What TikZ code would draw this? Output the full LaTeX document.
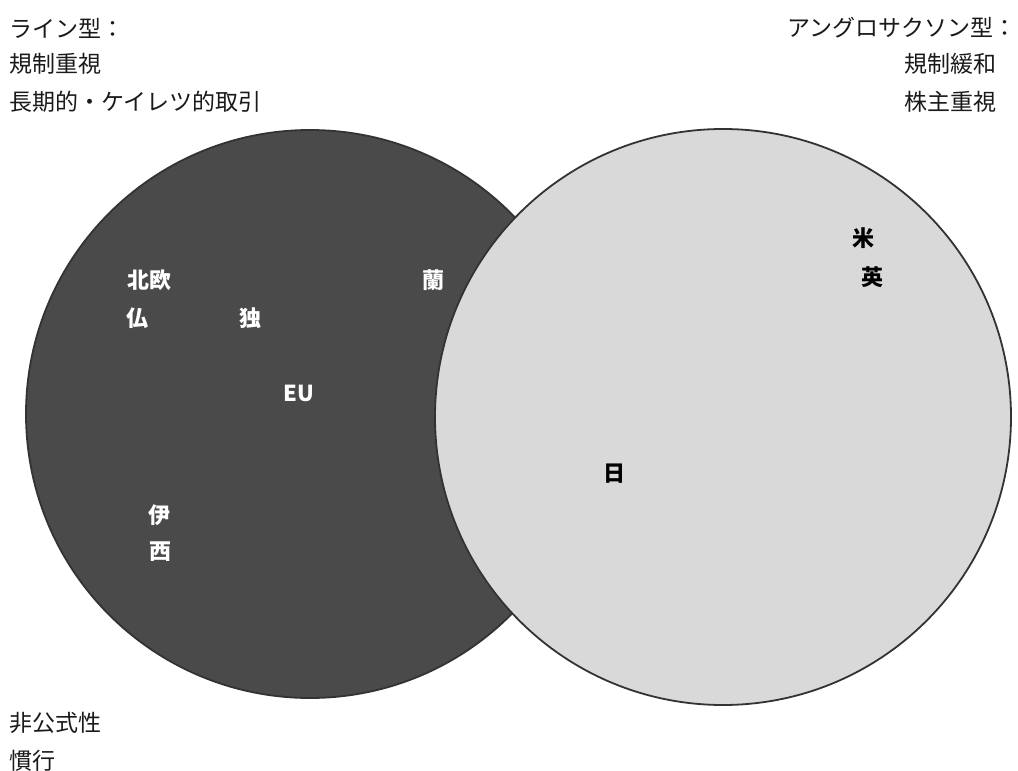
\documentclass[tikz,border=0pt]{standalone}
\usepackage{fontspec}
\newfontfamily\jp{Noto Sans CJK JP}
\definecolor{darkfill}{HTML}{4A4A4A}
\definecolor{lightfill}{HTML}{D9D9D9}
\definecolor{edge}{HTML}{333333}
\definecolor{txt}{HTML}{1A1A1A}
\tikzset{
  circ/.style={draw=edge, line width=1.8pt},
  hdr/.style={font=\jp\fontsize{23}{26}\selectfont, text=txt, inner sep=0pt},
  inlbl/.style={font=\jp\bfseries\fontsize{22}{25}\selectfont, inner sep=0pt},
}
\begin{document}
\begin{tikzpicture}[x=1pt,y=-1pt]
\useasboundingbox (0,0) rectangle (1018,771);
\fill[white] (0,0) rectangle (1018,771);
% circles
\node[circ, fill=darkfill, circle, minimum size=568pt, inner sep=0pt] (left) at (310,414) {};
\node[circ, fill=lightfill, circle, minimum size=576pt, inner sep=0pt] (right) at (723,417) {};
% header texts
\node[hdr, anchor=west] (t1) at (9,28) {ライン型：};
\node[hdr, anchor=west] (t2) at (9,64) {規制重視};
\node[hdr, anchor=west] (t3) at (9,102) {長期的・ケイレツ的取引};
\node[hdr, anchor=east] (r1) at (1017,28) {アングロサクソン型：};
\node[hdr, anchor=east] (r2) at (997,64) {規制緩和};
\node[hdr, anchor=east] (r3) at (997,102) {株主重視};
\node[hdr, anchor=west] (b1) at (9,723) {非公式性};
\node[hdr, anchor=west] (b2) at (9,761) {慣行};
% labels in left circle
\node[inlbl, text=white] (nordic) at (149,280) {北欧};
\node[inlbl, text=white] (fr) at (137,318) {仏};
\node[inlbl, text=white] (de) at (250,318) {独};
\node[inlbl, text=white] (nl) at (433,280) {蘭};
\node[inlbl, text=white] (eu) at (299,393) {EU};
\node[inlbl, text=white] (it) at (159,515) {伊};
\node[inlbl, text=white] (es) at (160,552) {西};
% labels in right circle
\node[inlbl, text=black] (jp) at (614,474) {日};
\node[inlbl, text=black] (us) at (863,238) {米};
\node[inlbl, text=black] (uk) at (872,277) {英};
\end{tikzpicture}
\end{document}
